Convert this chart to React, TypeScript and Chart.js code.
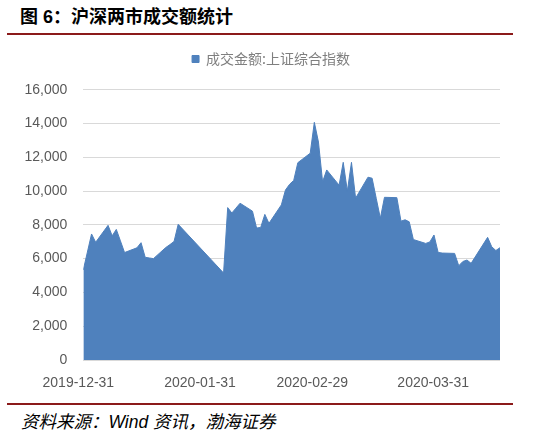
import { useEffect, useRef } from 'react'
import { Chart, registerables } from 'chart.js'

Chart.register(...registerables)

// trading days in the chart
const dates = [
  '2019-12-31',
  '2020-01-02', '2020-01-03', '2020-01-06', '2020-01-07', '2020-01-08', '2020-01-09', '2020-01-10',
  '2020-01-13', '2020-01-14', '2020-01-15', '2020-01-16', '2020-01-17',
  '2020-01-20', '2020-01-21', '2020-01-22', '2020-01-23',
  '2020-02-03', '2020-02-04', '2020-02-05', '2020-02-06', '2020-02-07',
  '2020-02-10', '2020-02-11', '2020-02-12', '2020-02-13', '2020-02-14',
  '2020-02-17', '2020-02-18', '2020-02-19', '2020-02-20', '2020-02-21',
  '2020-02-24', '2020-02-25', '2020-02-26', '2020-02-27', '2020-02-28',
  '2020-03-02', '2020-03-03', '2020-03-04', '2020-03-05', '2020-03-06',
  '2020-03-09', '2020-03-10', '2020-03-11', '2020-03-12', '2020-03-13',
  '2020-03-16', '2020-03-17', '2020-03-18', '2020-03-19', '2020-03-20',
  '2020-03-23', '2020-03-24', '2020-03-25', '2020-03-26', '2020-03-27',
  '2020-03-30', '2020-03-31', '2020-04-01', '2020-04-02', '2020-04-03',
  '2020-04-07', '2020-04-08', '2020-04-09', '2020-04-10',
]

// 成交金额 (亿元), same order as dates
const turnover = [
  5330,
  7460, 6970, 7970, 7350, 7730, 7050, 6360,
  6640, 6945, 6080, 6040, 6000,
  6660, 6830, 7020, 8030,
  5150, 9020, 8700, 8990, 9280,
  8810, 7810, 7850, 8620, 8090,
  9180, 10060, 10400, 10630, 11680,
  12240, 14070, 12900, 10550, 11250,
  10350, 11700, 10000, 11700, 9580,
  10820, 10760, 9570, 8390, 9630,
  9610, 8220, 8300, 8180, 7130,
  6900, 6990, 7400, 6370, 6330,
  6310, 5580, 5830, 5920, 5720,
  7260, 6700, 6480, 6650,
]

const seriesName = '成交金额:上证综合指数'

// date labels and where the reference prints them (days after 2019-12-31)
const tickLabels = ['2019-12-31', '2020-01-31', '2020-02-29', '2020-03-31']
const tickPos = [-1.2, 28.3, 55.5, 84.8]

const yMax = 16000
const yStep = 2000

const BLUE = '#4F81BD'
const AXIS_TEXT = '#595959'
const RULE = '#8B1A1A'

const dayOf = (d: string) => (Date.parse(d) - Date.parse(dates[0])) / 86400000

// gap under the legend, and centre it over the block that starts at the labels
const legendTweak = {
  id: 'legendTweak',
  beforeInit(chart: any) {
    const fit = chart.legend.fit
    chart.legend.fit = function () {
      fit.call(this)
      this.height += 13.7
    }
  },
  afterLayout(chart: any) {
    chart.legend.left = 42
  },
}

function TurnoverChart() {
  const chartRef = useRef<HTMLCanvasElement>(null)
  const chartInstance = useRef<Chart | null>(null)

  useEffect(() => {
    if (!chartRef.current) return
    if (chartInstance.current) chartInstance.current.destroy()

    const ctx = chartRef.current.getContext('2d')
    if (!ctx) return

    const axisFont = { family: "'Liberation Sans', Arial, sans-serif", size: 14 }

    chartInstance.current = new Chart(ctx, {
      type: 'line',
      data: {
        datasets: [
          {
            label: seriesName,
            data: dates.map((d, i) => ({ x: dayOf(d), y: turnover[i] })),
            borderColor: BLUE,
            backgroundColor: BLUE,
            borderWidth: 1,
            pointRadius: 0,
            tension: 0,
            fill: 'origin',
          },
        ],
      },
      options: {
        animation: false,
        responsive: false,
        layout: { padding: { left: 0, right: 54, top: 0, bottom: 0 } },
        plugins: {
          legend: {
            position: 'top',
            align: 'center',
            labels: {
              boxWidth: 7,
              boxHeight: 7,
              padding: 12,
              color: '#7F7F7F',
              font: { family: "'Noto Sans CJK SC'", size: 14 },
            },
          },
          tooltip: { enabled: false },
        },
        scales: {
          x: {
            type: 'linear',
            min: 0,
            max: dayOf(dates[dates.length - 1]),
            grid: { display: false },
            border: { display: false },
            afterBuildTicks: (scale: any) => {
              scale.ticks = tickPos.map((v) => ({ value: v }))
            },
            afterFit: (scale: any) => {
              scale.height = 30
            },
            ticks: {
              autoSkip: false,
              maxRotation: 0,
              padding: 7,
              color: AXIS_TEXT,
              font: axisFont,
              callback: (v: any) => tickLabels[tickPos.indexOf(Number(v))] ?? '',
            },
          },
          y: {
            min: 0,
            max: yMax,
            grid: { color: '#D9D9D9', drawTicks: false },
            border: { display: false },
            afterFit: (scale: any) => {
              scale.width = 83.3
            },
            ticks: {
              stepSize: yStep,
              padding: 16,
              color: AXIS_TEXT,
              font: axisFont,
              callback: (v: any) => Number(v).toLocaleString('en-US'),
            },
          },
        },
      },
      plugins: [legendTweak],
    })

    return () => {
      if (chartInstance.current) {
        chartInstance.current.destroy()
        chartInstance.current = null
      }
    }
  }, [])

  return <canvas ref={chartRef} width={554} height={350} style={{ position: 'absolute', left: 0, top: 40, width: 554, height: 350 }} />
}

export default function App() {
  return (
    <div style={{ position: 'absolute', left: 0, top: 0, width: 554, height: 435, background: '#fff', overflow: 'hidden' }}>
      <div
        style={{
          position: 'absolute',
          left: 20,
          top: 8,
          fontFamily: "'Liberation Sans', 'Noto Sans CJK SC', sans-serif",
          fontWeight: 'bold',
          fontSize: 18,
          lineHeight: '18px',
          color: '#000',
          whiteSpace: 'nowrap',
        }}
      >
        图 6：沪深两市成交额统计
      </div>
      <div style={{ position: 'absolute', left: 7, top: 32.5, width: 506, height: 2, background: RULE }} />
      <TurnoverChart />
      <div style={{ position: 'absolute', left: 7, top: 402.5, width: 506, height: 2, background: RULE }} />
      <div
        style={{
          position: 'absolute',
          left: 21,
          top: 413.5,
          fontFamily: "'Liberation Sans', 'Noto Sans CJK SC', sans-serif",
          fontStyle: 'italic',
          fontSize: 17.5,
          lineHeight: '17px',
          color: '#000',
          whiteSpace: 'nowrap',
        }}
      >
        资料来源：Wind 资讯，渤海证券
      </div>
    </div>
  )
}
